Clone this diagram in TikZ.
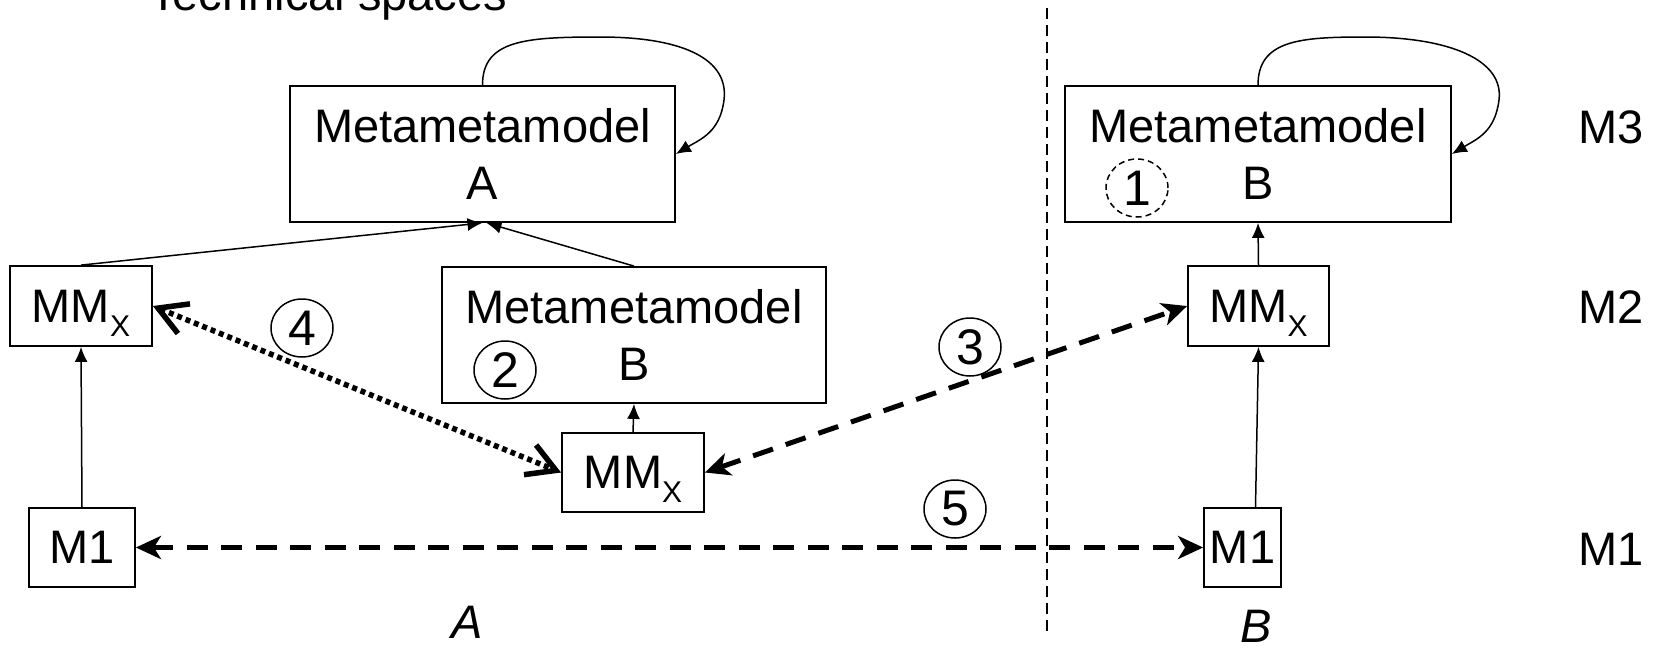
\documentclass[tikz,border=0pt]{standalone}
\usepackage{fontspec}
\setmainfont{Liberation Sans}
\usetikzlibrary{arrows.meta,shapes.geometric}
\newcommand\mmsub[1]{\raisebox{-14pt}[0pt][0pt]{\fontsize{30}{30}\selectfont #1}}
\begin{document}
\begin{tikzpicture}[x=1pt,y=-1pt,
  every node/.style={font=\fontsize{47}{57}\selectfont, inner sep=0pt},
  box/.style={draw, line width=1.8pt, rectangle, align=center},
  num/.style={draw, ellipse, line width=1.5pt, minimum width=62pt, minimum height=58pt,
    font=\fontsize{50}{57}\selectfont},
  thinarr/.style={line width=1.5pt, -{Latex[length=15pt,width=13pt]}},
  dasharr/.style={line width=5pt, dash pattern=on 21pt off 13.5pt,
    {Stealth[length=25pt,width=23pt,inset=7pt]}-{Stealth[length=25pt,width=23pt,inset=7pt]}},
  dotarr/.style={line width=5.5pt, dash pattern=on 5pt off 4pt,
    {Straight Barb[length=28pt,width=32pt]}-{Straight Barb[length=28pt,width=32pt]}},
  sepline/.style={line width=1.5pt, dash pattern=on 11pt off 6pt}
]
\fill[white] (0,0) rectangle (1658,649);
\useasboundingbox (0,0) rectangle (1658,649);

% title
\node[anchor=base west] (title) at (149,10) {Technical spaces};

% separator
\coordinate (sepTop) at (1047,8);
\coordinate (sepBot) at (1047,632);
\draw[sepline] (sepTop) -- (sepBot);

% boxes
\node[box, minimum width=385pt, minimum height=136pt] (MMA) at (482.5,154) {Metametamodel\\A};
\node[box, minimum width=386pt, minimum height=136pt] (MMBr) at (1258,154) {Metametamodel\\B};
\node[box, minimum width=384pt, minimum height=136pt] (MMBm) at (634,335) {Metametamodel\\B};

\node[box, minimum width=142pt, minimum height=80pt] (MMxL) at (81,306) {MM\mmsub{X}};
\node[box, minimum width=142pt, minimum height=79pt] (MMxM) at (633,472.5) {MM\mmsub{X}};
\node[box, minimum width=141pt, minimum height=80pt] (MMxR) at (1258.5,306) {MM\mmsub{X}};

\node[box, minimum width=106pt, minimum height=79pt] (M1L) at (82,547.5) {M1};
\node[box, minimum width=77pt, minimum height=79pt] (M1R) at (1242.5,547.5) {M1};

% numbered circles
\node[num, dash pattern=on 6pt off 4pt] (c1) at (1137,188) {1};
\node[num] (c2) at (505,370) {2};
\node[num] (c3) at (970,347) {3};
\node[num] (c4) at (302,328) {4};
\node[num] (c5) at (955,509) {5};

% level labels
\node[anchor=base west] (lM3) at (1578.5,143) {M3};
\node[anchor=base west] (lM2) at (1578.5,323) {M2};
\node[anchor=base west] (lM1) at (1578.5,565) {M1};

% space labels
\node[anchor=base] (spA) at (467,638) {\itshape A};
\node[anchor=base] (spB) at (1256,642) {\itshape B};

% thin connectors
\draw[thinarr] (MMxL.north) -- (MMA.south);
\draw[thinarr] (MMBm.north) -- ([xshift=4pt]MMA.south);
\draw[thinarr] (M1L.north) -- (MMxL.south);
\draw[thinarr] (MMxM.north) -- (MMBm.south);
\draw[thinarr] (MMxR.north) -- (MMBr.south);
\draw[thinarr] ([xshift=13pt]M1R.north) -- (MMxR.south);

% self loops
\draw[thinarr] (MMA.north) .. controls +(0,-45) and +(-75,0) .. (600,37)
  .. controls +(85,0) and +(5,-40) .. (724,100)
  .. controls +(-4,32) and +(25,-15) .. (MMA.east);
\draw[thinarr] (MMBr.north) .. controls +(0,-45) and +(-65,0) .. (1365,37)
  .. controls +(85,0) and +(5,-40) .. (1499,100)
  .. controls +(-4,32) and +(25,-15) .. (MMBr.east);

% transformation arrows
\draw[dotarr] (MMxL.east) -- (MMxM.west);
\draw[dasharr] (MMxM.east) -- (MMxR.west);
\draw[dasharr] (M1L.east) -- (M1R.west);
\end{tikzpicture}
\end{document}
